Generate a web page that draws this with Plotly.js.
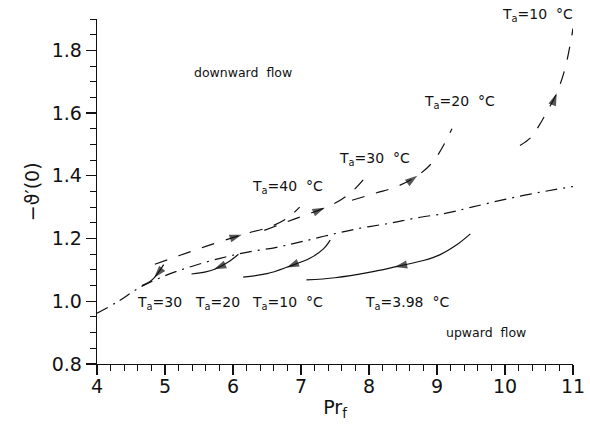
<!DOCTYPE html>
<html>
<head>
<meta charset="utf-8">
<script src="https://cdn.plot.ly/plotly-3.0.1.min.js"></script>
<style>html,body{margin:0;padding:0;background:#fff;}#chart{width:590px;height:424px;}</style>
</head>
<body>
<div id="chart"></div>
<script>
// ---- data ----
// dash-dot boundary curve
const divX = [4.0,4.3,4.63,5.03,5.39,5.81,6.2,6.64,7.01,7.43,7.87,8.31,8.7,9.14,9.51,10.0,10.5,11.0];
const divY = [0.962,0.998,1.044,1.084,1.111,1.137,1.156,1.172,1.19,1.212,1.233,1.249,1.266,1.281,1.30,1.325,1.347,1.366];

// downward flow (dashed)
const down40X = [4.85,5.2,5.6,6.13,6.55,6.8,6.98];
const down40Y = [1.118,1.145,1.175,1.212,1.238,1.265,1.30];
const down30X = [6.46,6.9,7.35,7.6,7.8,8.0];
const down30Y = [1.226,1.262,1.298,1.325,1.36,1.41];
const down20X = [7.75,8.1,8.4,8.71,8.96,9.22];
const down20Y = [1.322,1.345,1.365,1.40,1.45,1.55];
const down10X = [10.22,10.37,10.5,10.63,10.76,10.88,10.96,11.0];
const down10Y = [1.497,1.52,1.56,1.61,1.663,1.74,1.82,1.87];

// upward flow (solid)
const up30X = [4.66,4.78,4.85,4.92,4.98];
const up30Y = [1.05,1.063,1.077,1.097,1.117];
const up20X = [5.39,5.6,5.74,5.93,6.08];
const up20Y = [1.087,1.094,1.103,1.125,1.15];
const up10X = [6.15,6.5,6.81,7.13,7.33,7.43];
const up10Y = [1.077,1.088,1.11,1.137,1.167,1.195];
const up398X = [7.08,7.5,8.0,8.41,8.8,9.04,9.29,9.49];
const up398Y = [1.068,1.075,1.092,1.111,1.13,1.148,1.18,1.215];

// arrow heads (position) and a point behind each one (direction of travel)
const arrowX     = [6.13,7.35,8.71,10.76,4.84,5.72,6.79,8.38];
const arrowY     = [1.212,1.298,1.40,1.663,1.075,1.102,1.108,1.109];
const arrowTailX = [6.0,7.22,8.6,10.71,4.9,5.85,6.93,8.55];
const arrowTailY = [1.203,1.286,1.383,1.635,1.09,1.114,1.12,1.117];

// text labels
const labelText = ['downward\u00a0 flow','upward\u00a0 flow',
  'T<sub>a</sub>=40\u00a0 °C','T<sub>a</sub>=30\u00a0 °C','T<sub>a</sub>=20\u00a0 °C','T<sub>a</sub>=10\u00a0 °C',
  'T<sub>a</sub>=30','T<sub>a</sub>=20','T<sub>a</sub>=10\u00a0 °C','T<sub>a</sub>=3.98\u00a0 °C'];
const labelX = [5.4,9.1,6.25,7.53,8.78,9.93,4.56,5.41,6.25,7.91];
const labelY = [1.728,0.902,1.365,1.455,1.635,1.912,0.993,0.993,0.993,0.993];

// axis
const xRange = [4, 11];
const yRange = [0.8, 1.9];
const xTickVals = [4,5,6,7,8,9,10,11];
const yTickVals = [0.8,1.0,1.2,1.4,1.6,1.8];
const yTickText = ['0.8','1.0','1.2','1.4','1.6','1.8'];
const xTitle = 'Pr<sub>f</sub>';
const yTitle = '\u2212\u03d1\u2032(0)';

// ---- chart ----
const ink = '#111';
function curve(x, y, dash) {
  return {x: x, y: y, mode: 'lines', type: 'scatter', hoverinfo: 'skip',
    line: {color: ink, width: 1.2, dash: dash, shape: 'spline', smoothing: 1}};
}
const DASH = '13px,12px';
const DASHDOT = '12px,6px,2px,6px';
const traces = [
  curve(divX, divY, DASHDOT),
  curve(down40X, down40Y, DASH),
  curve(down30X, down30Y, DASH),
  curve(down20X, down20Y, DASH),
  curve(down10X, down10Y, DASH),
  curve(up30X, up30Y, 'solid'),
  curve(up20X, up20Y, 'solid'),
  curve(up10X, up10Y, 'solid'),
  curve(up398X, up398Y, 'solid')
];
for (let i = 0; i < arrowX.length; i++) {
  traces.push({x: [arrowTailX[i], arrowX[i]], y: [arrowTailY[i], arrowY[i]],
    mode: 'markers', type: 'scatter', hoverinfo: 'skip', cliponaxis: false,
    marker: {symbol: 'arrow', size: [0, 13], angleref: 'previous', color: ink,
      line: {width: 0}}});
}

const annotations = [];
for (let i = 0; i < labelText.length; i++) {
  const inside = labelY[i] <= yRange[1];
  annotations.push({x: labelX[i], xref: 'x',
    y: inside ? labelY[i] : (labelY[i] - yRange[0]) / (yRange[1] - yRange[0]),
    yref: inside ? 'y' : 'paper', text: labelText[i],
    showarrow: false, xanchor: 'left', yanchor: 'middle',
    font: {family: 'DejaVu Sans', size: i < 2 ? 12.5 : 14, color: ink}});
}
// y-axis title as rotated annotation
annotations.push({xref: 'paper', yref: 'paper', x: -0.137, y: 0.5, text: yTitle,
  textangle: -90, showarrow: false, xanchor: 'center', yanchor: 'middle',
  font: {family: 'DejaVu Sans', size: 19, color: ink}});

const layout = {
  width: 590, height: 424,
  margin: {l: 97, r: 17, t: 19, b: 60},
  paper_bgcolor: '#fff', plot_bgcolor: '#fff',
  showlegend: false,
  font: {family: 'DejaVu Sans', color: ink},
  xaxis: {range: xRange, tickvals: xTickVals, ticks: 'outside', ticklen: 10, tickwidth: 1.2,
    tickcolor: ink, showline: true, linecolor: ink, linewidth: 1.3, showgrid: false, zeroline: false,
    tickfont: {family: 'DejaVu Sans', size: 19, color: ink}, ticklabelstandoff: -5,
    minor: {dtick: 0.2, tick0: 4, ticks: 'outside', ticklen: 6, tickwidth: 1, tickcolor: ink, showgrid: false},
    title: {text: xTitle, font: {family: 'DejaVu Sans', size: 19, color: ink}, standoff: 4}},
  yaxis: {range: yRange, tickvals: yTickVals, ticktext: yTickText, ticks: 'outside', ticklen: 10, tickwidth: 1.2,
    tickcolor: ink, showline: true, linecolor: ink, linewidth: 1.3, showgrid: false, zeroline: false,
    tickfont: {family: 'DejaVu Sans', size: 19, color: ink}, ticksuffix: '\u00a0\u200a',
    minor: {dtick: 0.05, tick0: 0.8, ticks: 'outside', ticklen: 6, tickwidth: 1, tickcolor: ink, showgrid: false}},
  annotations: annotations
};
Plotly.newPlot('chart', traces, layout, {staticPlot: true, displayModeBar: false});
</script>
</body>
</html>
